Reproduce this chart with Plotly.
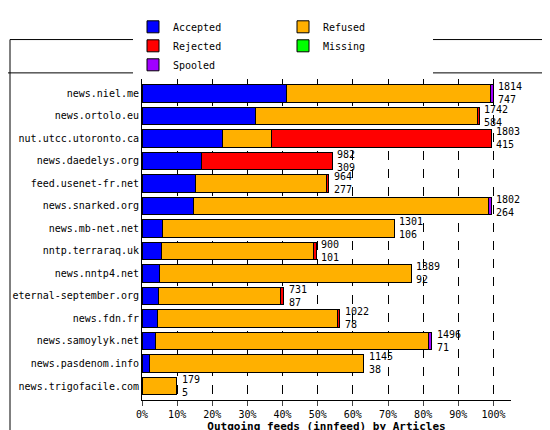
import plotly.graph_objects as go

hosts = ["news.niel.me", "news.ortolo.eu", "nut.utcc.utoronto.ca", "news.daedelys.org",
         "feed.usenet-fr.net", "news.snarked.org", "news.mb-net.net", "nntp.terraraq.uk",
         "news.nntp4.net", "eternal-september.org", "news.fdn.fr", "news.samoylyk.net",
         "news.pasdenom.info", "news.trigofacile.com"]
offered = [1814, 1742, 1803, 982, 964, 1802, 1301, 900, 1389, 731, 1022, 1496, 1145, 179]
accepted = [747, 584, 415, 309, 277, 264, 106, 101, 92, 87, 78, 71, 38, 5]
refused = [1052, 1148, 255, 0, 677, 1523, 1195, 784, 1297, 629, 929, 1410, 1107, 174]
rejected = [0, 10, 1133, 673, 10, 0, 0, 15, 0, 15, 15, 0, 0, 0]
missing = [0] * 14
spooled = [15, 0, 0, 0, 0, 15, 0, 0, 0, 0, 0, 15, 0, 0]

series = [("Accepted", accepted, "#0000ff"), ("Refused", refused, "#ffb000"),
          ("Rejected", rejected, "#ff0000"), ("Missing", missing, "#00ff00"),
          ("Spooled", spooled, "#a000ff")]
mx = max(offered)
font = "DejaVu Sans Mono"

fig = go.Figure()
for name, vals, col in series:
    fig.add_trace(go.Bar(y=hosts, x=[v / mx * 100 for v in vals], orientation="h", name=name,
                         marker=dict(color=col, line=dict(color="black", width=1))))

for h, o, a in zip(hosts, offered, accepted):
    fig.add_annotation(x=o / mx * 100, y=h, text=f"{o}<br>{a}", showarrow=False,
                       xanchor="left", xshift=3, align="left",
                       font=dict(family=font, size=10, color="black"))

fig.update_layout(
    width=550, height=430, barmode="stack", bargap=0.22,
    paper_bgcolor="white", plot_bgcolor="white",
    margin=dict(l=134, r=47, t=45, b=38),
    font=dict(family=font, size=10, color="black"),
    legend=dict(orientation="h", x=0.5, xanchor="center", y=0.99, yanchor="top",
                yref="container", xref="container", font=dict(family=font, size=10),
                traceorder="normal", entrywidth=105, entrywidthmode="pixels"),
    xaxis=dict(range=[0, 105], tickvals=list(range(0, 101, 10)), automargin=False,
               ticktext=[f"{v}%" for v in range(0, 101, 10)], ticks="outside",
               showgrid=True, gridcolor="black", griddash="dash", gridwidth=1,
               showline=True, linecolor="black", zeroline=False,
               title=dict(text="<b>Outgoing feeds (innfeed) by Articles</b>",
                          font=dict(family=font, size=11), standoff=2)),
    yaxis=dict(autorange="reversed", showline=True, linecolor="black", ticks="",
               ticklen=0, automargin=False),
    showlegend=True,
)
fig.add_shape(type="line", xref="paper", yref="paper", x0=-134/369, x1=1 + 47/369,
              y0=1.02, y1=1.02, line=dict(color="black", width=1))
fig.add_shape(type="rect", xref="paper", yref="paper", x0=-132/369, x1=1 + 45/369,
              y0=-36/347, y1=1 + 43/347, line=dict(color="black", width=1))
fig.write_html("out.html")
